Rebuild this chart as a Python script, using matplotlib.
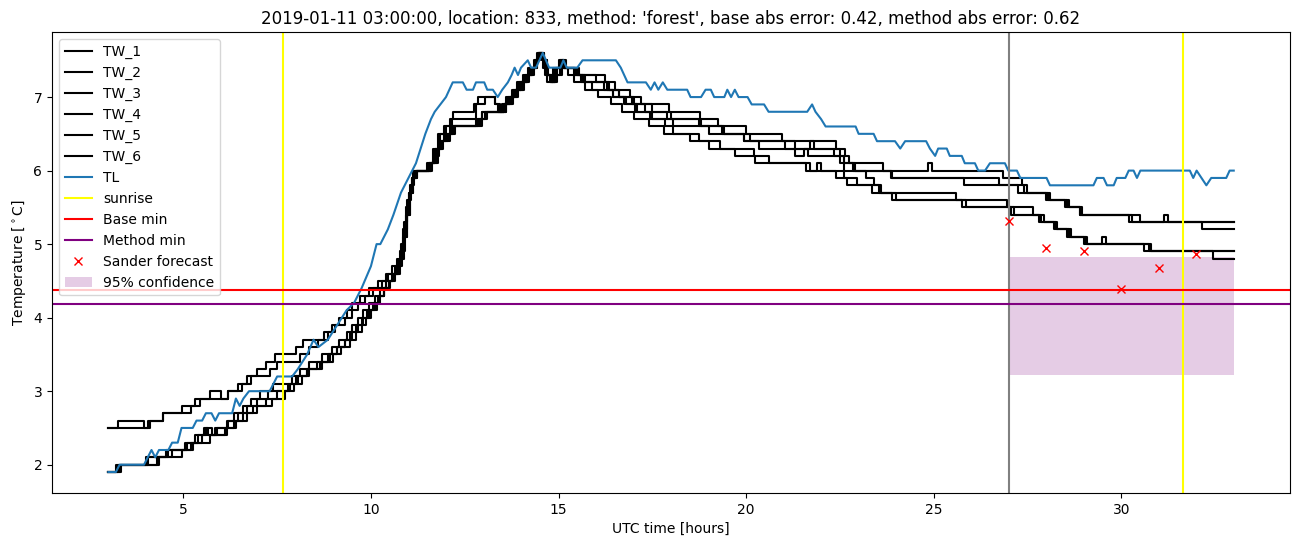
import matplotlib
matplotlib.use("Agg")
import matplotlib.pyplot as plt

# ---------------- data (change points: time [h], value [degC]) ----------------
tw1_t = [3.0, 4.05, 4.45, 5.2, 5.45, 5.7, 6.0, 6.2, 6.45, 6.7, 6.95, 7.2, 7.45, 8.0, 8.2, 8.75, 8.95, 9.15, 9.35,
         9.5, 9.7, 9.95, 10.2, 10.4, 10.55, 10.7, 10.8, 10.88, 10.95, 11.03, 11.12, 11.5, 11.65, 11.8, 11.95, 12.1,
         12.2, 12.75, 12.85, 13.3, 13.4, 13.5, 13.6, 13.75, 13.9, 14.05, 14.2, 14.35, 14.42, 14.6, 14.72, 14.85, 15.0,
         15.15, 15.4, 16.25, 16.5, 16.9, 17.2, 17.95, 18.78, 19.25, 20.0, 20.95, 22.4, 22.5, 22.6, 23.65, 24.85,
         24.95, 26.85, 27.35, 27.5, 28.0, 28.5, 28.9, 30.2, 33.0]
tw1_v = [2.5, 2.6, 2.7, 2.8, 2.9, 3.0, 2.9, 3.0, 3.1, 3.2, 3.3, 3.4, 3.5, 3.6, 3.7, 3.8, 3.9, 4.0, 4.1,
         4.2, 4.3, 4.4, 4.5, 4.6, 4.7, 4.8, 5.0, 5.3, 5.6, 5.8, 6.0, 6.1, 6.3, 6.5, 6.6, 6.7,
         6.8, 6.9, 7.0, 6.9, 6.8, 6.9, 7.0, 7.1, 7.2, 7.3, 7.4, 7.5, 7.6, 7.4, 7.3, 7.4, 7.5,
         7.4, 7.3, 7.2, 7.1, 7.0, 6.9, 6.8, 6.7, 6.6, 6.5, 6.4, 6.3, 6.2, 6.1, 6.0, 6.1,
         6.0, 5.9, 5.8, 5.7, 5.6, 5.5, 5.4, 5.3, 5.3]

tw2_t = [3.0, 3.25, 3.95, 4.1, 4.45, 4.95, 5.3, 6.2, 6.55, 6.8, 7.3, 7.5, 8.1, 8.35, 8.6, 8.85, 9.05, 9.3, 9.5,
         9.65, 9.85, 10.05, 10.3, 10.45, 10.65, 10.78, 10.86, 10.94, 11.02, 11.1, 11.2, 11.55, 11.7, 11.85, 12.0,
         12.15, 12.8, 13.05, 13.3, 13.45, 13.55, 13.65, 13.8, 13.95, 14.1, 14.25, 14.38, 14.45, 14.55, 14.65, 14.78,
         14.9, 15.05, 15.15, 15.55, 15.7, 16.3, 16.6, 17.0, 17.5, 17.9, 18.75, 19.35, 19.95, 21.05, 21.7, 21.8,
         22.65, 22.75, 22.85, 23.85, 25.8, 27.25, 28.1, 28.6, 28.95, 30.5, 32.15, 33.0]
tw2_v = [2.5, 2.6, 2.5, 2.6, 2.7, 2.8, 2.9, 3.0, 3.1, 3.2, 3.3, 3.4, 3.5, 3.6, 3.7, 3.8, 3.9, 4.0, 4.1,
         4.2, 4.3, 4.4, 4.5, 4.6, 4.7, 4.9, 5.2, 5.5, 5.7, 5.9, 6.0, 6.1, 6.3, 6.5, 6.6,
         6.7, 6.9, 7.0, 6.9, 6.8, 6.9, 7.0, 7.1, 7.2, 7.3, 7.4, 7.5, 7.6, 7.5, 7.3, 7.2,
         7.4, 7.5, 7.4, 7.3, 7.2, 7.1, 7.0, 6.9, 6.8, 6.7, 6.6, 6.5, 6.4, 6.3, 6.4, 6.3,
         6.2, 6.1, 6.0, 5.9, 5.8, 5.7, 5.6, 5.5, 5.4, 5.3, 5.2, 5.2]

tw3_t = [3.0, 3.2, 4.0, 4.55, 5.05, 5.3, 5.55, 5.65, 5.85, 6.15, 6.35, 6.6, 6.8, 7.05, 7.4, 7.9, 8.1, 8.35, 8.7,
         8.95, 9.15, 9.35, 9.5, 9.65, 9.8, 9.95, 10.1, 10.25, 10.4, 10.55, 10.7, 10.8, 10.88, 10.95, 11.02, 11.1,
         11.2, 11.6, 11.72, 11.88, 12.0, 12.15, 12.85, 12.95, 13.55, 13.7, 13.85, 14.0, 14.15, 14.3, 14.4, 14.46,
         14.56, 14.66, 14.76, 14.9, 15.05, 15.2, 15.45, 15.6, 16.2, 16.45, 16.8, 17.1, 17.45, 18.05, 19.0, 19.95,
         20.35, 21.3, 21.55, 21.65, 22.5, 22.6, 23.2, 23.4, 23.55, 25.6, 26.95, 27.65, 27.85, 28.25, 28.55, 29.05,
         30.75, 33.0]
tw3_v = [1.9, 2.0, 2.1, 2.2, 2.3, 2.4, 2.5, 2.4, 2.5, 2.6, 2.7, 2.8, 2.9, 3.0, 3.1, 3.2, 3.3, 3.4, 3.5,
         3.6, 3.7, 3.8, 3.9, 4.0, 4.1, 4.2, 4.3, 4.4, 4.5, 4.6, 4.7, 4.9, 5.2, 5.5, 5.7, 5.9,
         6.0, 6.1, 6.3, 6.4, 6.5, 6.6, 6.7, 6.8, 6.9, 7.0, 7.1, 7.2, 7.3, 7.4, 7.5, 7.6,
         7.5, 7.3, 7.2, 7.3, 7.4, 7.4, 7.3, 7.2, 7.1, 7.0, 6.9, 6.8, 6.7, 6.6, 6.5, 6.4,
         6.3, 6.2, 6.3, 6.2, 6.1, 6.0, 5.9, 5.8, 5.7, 5.6, 5.5, 5.4, 5.3, 5.2, 5.1, 5.0,
         4.9, 4.9]

tw4_t = [3.0, 3.25, 4.05, 4.6, 5.1, 5.4, 5.9, 6.2, 6.45, 6.7, 6.95, 7.25, 7.8, 8.0, 8.3, 8.65, 8.9, 9.1, 9.3,
         9.45, 9.6, 9.75, 9.9, 10.05, 10.2, 10.35, 10.5, 10.65, 10.75, 10.85, 10.93, 11.0, 11.08, 11.16, 11.55,
         11.68, 11.82, 11.95, 12.1, 12.8, 12.95, 13.55, 13.7, 13.85, 14.0, 14.15, 14.3, 14.4, 14.47, 14.58, 14.7,
         14.85, 14.95, 15.3, 15.5, 16.0, 16.35, 16.6, 16.95, 17.3, 18.0, 18.8, 19.4, 20.1, 21.3, 22.35, 22.6, 22.9,
         23.9, 26.75, 27.4, 28.05, 28.55, 28.9, 30.3, 31.15, 31.25, 33.0]
tw4_v = [1.9, 2.0, 2.1, 2.2, 2.3, 2.4, 2.5, 2.6, 2.7, 2.8, 2.9, 3.0, 3.1, 3.2, 3.3, 3.4, 3.5, 3.6, 3.7,
         3.8, 3.9, 4.0, 4.1, 4.2, 4.3, 4.4, 4.5, 4.6, 4.8, 5.1, 5.4, 5.6, 5.8, 6.0, 6.1,
         6.2, 6.4, 6.5, 6.6, 6.7, 6.8, 6.9, 7.0, 7.1, 7.2, 7.3, 7.4, 7.5, 7.6, 7.4, 7.2,
         7.3, 7.4, 7.4, 7.3, 7.2, 7.1, 7.0, 6.9, 6.8, 6.7, 6.6, 6.5, 6.4, 6.3, 6.2, 6.1, 6.0,
         5.9, 5.8, 5.7, 5.6, 5.5, 5.4, 5.3, 5.4, 5.3, 5.3]

tw5_t = [3.0, 3.3, 4.3, 4.7, 5.2, 5.5, 5.6, 5.75, 6.1, 6.35, 6.6, 6.85, 7.2, 7.5, 7.85, 8.05, 8.3, 8.55, 8.85,
         9.1, 9.3, 9.5, 9.65, 9.8, 9.95, 10.1, 10.22, 10.35, 10.48, 10.6, 10.72, 10.8, 10.88, 10.96, 11.04, 11.12,
         11.22, 11.6, 11.75, 11.9, 12.05, 12.2, 12.9, 13.05, 13.6, 13.75, 13.9, 14.05, 14.2, 14.32, 14.42, 14.48,
         14.58, 14.68, 14.8, 14.92, 15.1, 15.2, 15.45, 15.65, 15.9, 16.45, 16.75, 17.05, 17.5, 17.85, 18.05, 18.75,
         19.3, 20.2, 20.6, 21.7, 21.9, 22.0, 22.6, 22.95, 23.6, 23.9, 25.75, 27.05, 27.8, 28.2, 28.6, 29.0, 30.6,
         33.0]
tw5_v = [1.9, 2.0, 2.1, 2.2, 2.3, 2.4, 2.5, 2.4, 2.5, 2.6, 2.7, 2.8, 2.9, 3.0, 3.1, 3.2, 3.3, 3.4, 3.5,
         3.6, 3.7, 3.8, 3.9, 4.0, 4.1, 4.2, 4.3, 4.4, 4.5, 4.6, 4.7, 4.8, 5.1, 5.4, 5.7, 5.9,
         6.0, 6.1, 6.3, 6.4, 6.5, 6.6, 6.7, 6.8, 6.9, 7.0, 7.1, 7.2, 7.3, 7.4, 7.5, 7.6,
         7.5, 7.3, 7.2, 7.4, 7.5, 7.4, 7.3, 7.2, 7.1, 7.0, 6.9, 6.8, 6.7, 6.6, 6.5, 6.4,
         6.3, 6.2, 6.1, 6.0, 6.1, 6.0, 5.9, 5.8, 5.7, 5.6, 5.5, 5.4, 5.3, 5.2, 5.1, 5.0, 4.9,
         4.9]

tw6_t = [3.0, 3.35, 4.35, 4.95, 5.25, 5.7, 6.15, 6.4, 6.7, 6.95, 7.35, 7.7, 7.95, 8.15, 8.35, 8.7, 9.0, 9.2,
         9.45, 9.6, 9.75, 9.88, 10.0, 10.16, 10.25, 10.34, 10.47, 10.6, 10.77, 10.84, 10.9, 10.97, 11.05, 11.13,
         11.22, 11.62, 11.78, 11.92, 12.1, 12.25, 12.95, 13.1, 13.6, 13.78, 13.92, 14.08, 14.22, 14.35, 14.42,
         14.5, 14.6, 14.7, 14.82, 14.95, 15.1, 15.25, 15.4, 15.7, 16.05, 16.4, 16.7, 17.0, 17.4, 17.8, 18.5, 19.0,
         19.7, 20.25, 21.6, 22.4, 22.7, 23.35, 24.0, 25.85, 27.15, 27.95, 28.3, 28.65, 29.1, 29.5, 29.6, 30.8,
         32.45, 33.0]
tw6_v = [1.9, 2.0, 2.1, 2.2, 2.3, 2.4, 2.5, 2.6, 2.7, 2.8, 2.9, 3.0, 3.1, 3.2, 3.3, 3.4, 3.5, 3.6,
         3.7, 3.8, 3.9, 4.0, 4.1, 4.2, 4.3, 4.4, 4.5, 4.6, 4.7, 4.9, 5.1, 5.4, 5.7, 5.9,
         6.0, 6.1, 6.3, 6.4, 6.5, 6.6, 6.7, 6.8, 6.9, 7.0, 7.1, 7.2, 7.3, 7.4, 7.5,
         7.6, 7.5, 7.3, 7.2, 7.3, 7.4, 7.3, 7.2, 7.1, 7.0, 6.9, 6.8, 6.7, 6.6, 6.5, 6.4, 6.3,
         6.2, 6.1, 6.0, 5.9, 5.8, 5.7, 5.6, 5.5, 5.4, 5.3, 5.2, 5.1, 5.0, 5.1, 5.0, 4.9,
         4.8, 4.8]

tl_t = [3.0, 3.2, 3.3, 3.95, 4.05, 4.15, 4.25, 4.35, 4.6, 4.7, 4.85, 4.95, 5.25, 5.35, 5.5, 5.6, 5.75, 5.85,
        5.95, 6.3, 6.4, 6.5, 6.6, 6.75, 7.3, 7.4, 7.5, 7.9, 8.05, 8.3, 8.47, 8.6, 8.85, 9.1, 9.35, 9.55, 9.75,
        10.0, 10.15, 10.25, 10.45, 10.6, 10.8, 11.0, 11.2, 11.45, 11.6, 11.7, 11.85, 12.0, 12.18, 12.45, 12.55,
        12.72, 12.8, 13.02, 13.1, 13.25, 13.38, 13.5, 13.65, 13.75, 13.83, 13.92, 14.0, 14.18, 14.27, 14.4,
        14.58, 14.75, 15.05, 15.13, 15.22, 15.5, 15.64, 16.53, 16.66, 16.75, 16.84, 17.33, 17.46, 17.56, 17.66,
        17.78, 17.9, 18.43, 18.52, 18.8, 18.92, 19.06, 19.15, 19.42, 19.5, 19.6, 19.7, 19.8, 20.04, 20.15,
        20.48, 20.6, 21.63, 21.76, 21.85, 22.0, 22.12, 22.92, 23.0, 23.4, 23.49, 23.97, 24.11, 24.24, 24.8,
        24.9, 25.04, 25.12, 25.35, 25.43, 25.75, 25.83, 26.1, 26.19, 26.37, 26.5, 26.9, 26.99, 27.22, 27.31,
        28.01, 28.1, 29.26, 29.35, 29.53, 29.62, 29.8, 29.88, 30.11, 30.2, 30.33, 30.42, 30.51, 31.83, 31.92,
        32.01, 32.14, 32.27, 32.4, 32.8, 32.89, 33.0]
tl_v = [1.9, 1.9, 2.0, 2.0, 2.1, 2.2, 2.1, 2.2, 2.2, 2.3, 2.3, 2.5, 2.5, 2.6, 2.6, 2.7, 2.7, 2.6,
        2.7, 2.7, 2.9, 2.8, 2.9, 3.0, 3.0, 3.1, 3.2, 3.2, 3.3, 3.5, 3.7, 3.6, 3.7, 3.9, 4.1, 4.2, 4.4,
        4.7, 5.0, 5.0, 5.2, 5.4, 5.7, 5.9, 6.1, 6.5, 6.7, 6.8, 6.9, 7.0, 7.2, 7.2, 7.1,
        7.1, 7.2, 7.2, 7.1, 7.1, 7.0, 7.1, 7.2, 7.3, 7.4, 7.3, 7.4, 7.5, 7.4, 7.4,
        7.6, 7.4, 7.4, 7.5, 7.4, 7.4, 7.5, 7.5, 7.4, 7.3, 7.2, 7.2, 7.1, 7.2, 7.1,
        7.2, 7.1, 7.1, 7.0, 7.0, 7.1, 7.1, 7.0, 7.0, 7.1, 7.0, 7.1, 7.0, 7.0, 6.9,
        6.9, 6.8, 6.8, 6.9, 6.8, 6.7, 6.6, 6.6, 6.5, 6.5, 6.4, 6.4, 6.3, 6.4, 6.4,
        6.3, 6.2, 6.3, 6.3, 6.2, 6.2, 6.1, 6.1, 6.0, 6.0, 6.1, 6.1, 6.0, 6.0, 5.9,
        5.9, 5.8, 5.8, 5.9, 5.9, 5.8, 5.8, 5.9, 5.9, 6.0, 6.0, 5.9, 6.0, 6.0, 5.9,
        6.0, 5.9, 5.8, 5.9, 5.9, 6.0, 6.0]

sunrise_times = [7.65, 31.65]
forecast_hour = 27.0
base_min = 4.38
method_min = 4.18
sander_t = [27, 28, 29, 30, 31, 32]
sander_v = [5.31, 4.95, 4.91, 4.385, 4.68, 4.87]
conf_t = [27.0, 33.0]
conf_low = 3.22
conf_high = 4.82

title = ("2019-01-11 03:00:00, location: 833, method: 'forest', "
         "base abs error: 0.42, method abs error: 0.62")

# ---------------- plot ----------------
fig = plt.figure(figsize=(13.02, 5.47), dpi=100)
ax = fig.add_axes([0.040, 0.0987, 0.9508, 0.8428])

tw_series = [(tw1_t, tw1_v), (tw2_t, tw2_v), (tw3_t, tw3_v),
             (tw4_t, tw4_v), (tw5_t, tw5_v), (tw6_t, tw6_v)]
for i, (t, v) in enumerate(tw_series):
    ax.plot(t, v, color="black", drawstyle="steps-post", lw=1.5, label=f"TW_{i + 1}")
ax.plot(tl_t, tl_v, color="C0", lw=1.5, label="TL")

for i, s in enumerate(sunrise_times):
    ax.axvline(s, color="yellow", lw=1.5, label="sunrise" if i == 0 else None)
ax.axvline(forecast_hour, color="gray", lw=1.5)
ax.axhline(base_min, color="red", lw=1.5, label="Base min")
ax.axhline(method_min, color="purple", lw=1.5, label="Method min")
ax.plot(sander_t, sander_v, "x", color="red", label="Sander forecast")
ax.fill_between(conf_t, conf_low, conf_high, color="purple", alpha=0.2,
                linewidth=0, label="95% confidence")

ax.set_xlim(1.5, 34.5)
ax.set_ylim(1.615, 7.885)
ax.set_title(title, fontsize=12)
ax.set_xlabel("UTC time [hours]")
ax.set_ylabel(r"Temperature [$^\circ$C]")
ax.legend(loc="upper left")

fig.savefig("out.png", dpi=100)
